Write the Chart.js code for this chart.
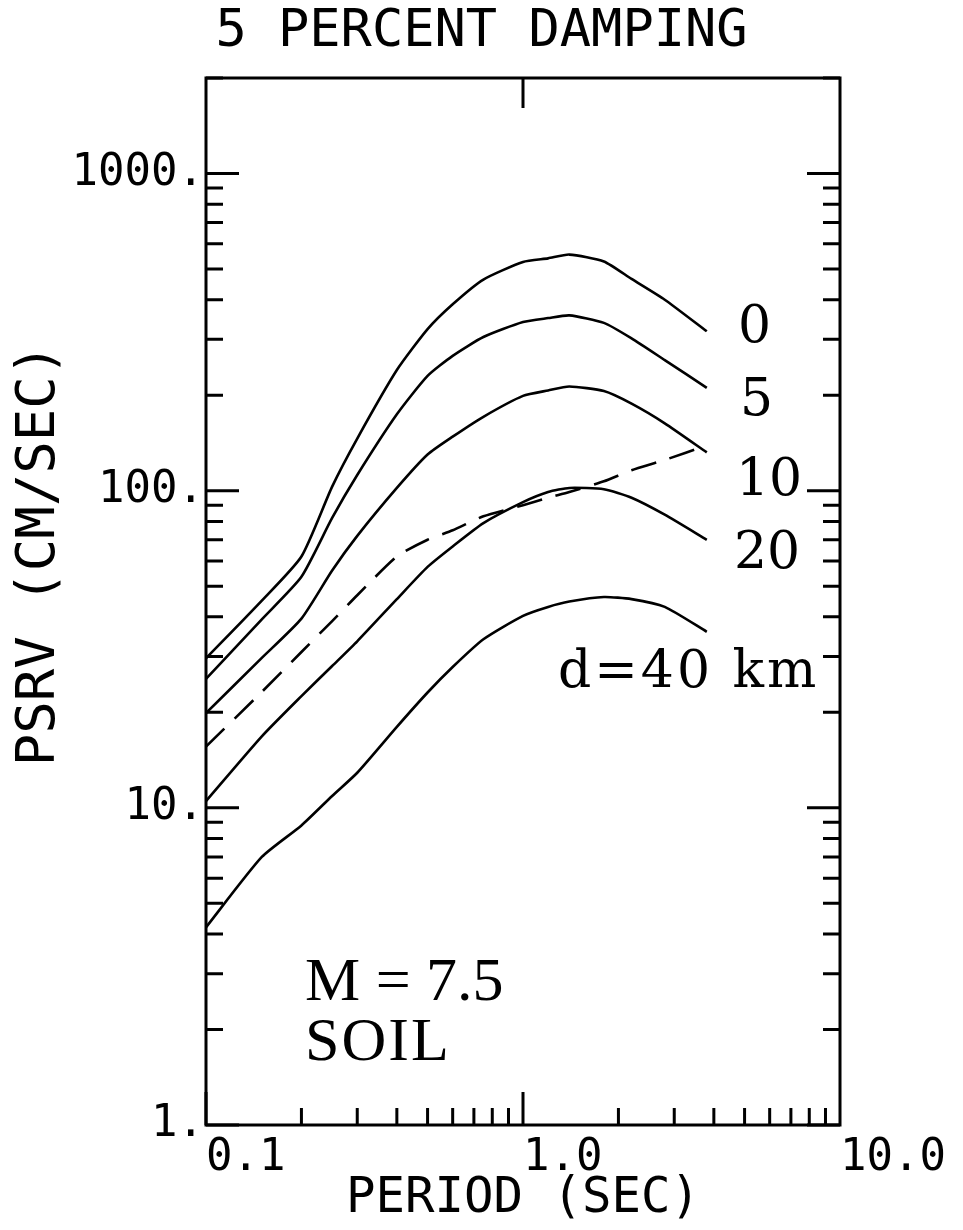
<!DOCTYPE html>
<html><head><meta charset="utf-8">
<script src="https://cdn.jsdelivr.net/npm/chart.js@4/dist/chart.umd.min.js"></script>
<style>html,body{margin:0;padding:0;background:#fff;}canvas{display:block;}</style>
</head><body>
<canvas id="c" width="963" height="1230"></canvas>
<script>
// ---- data ----
const periods   = [0.1, 0.15, 0.2, 0.25, 0.3, 0.4, 0.5, 0.6, 0.75, 1.0, 1.2, 1.4, 1.8, 2.2, 2.8, 3.8];
const psrvD0    = [29.6, 45, 62, 103, 146, 240, 323, 387, 463, 526, 540, 555, 528, 465, 400, 318];
const psrvD5    = [25.5, 39.3, 53.5, 82, 112, 174, 230, 266, 305, 340, 350, 357, 338, 302, 258, 211];
const psrvD10   = [19.9, 29.7, 39.5, 56, 72, 102, 130, 148, 171, 199, 207, 213, 206, 188, 163, 132];
const psrvD20   = [10.5, 16.8, 22.5, 28, 33.5, 45.5, 57.5, 66.7, 79, 92, 99, 102, 101, 95, 84, 70];
const psrvD40   = [4.2, 7.0, 8.8, 10.9, 12.9, 18, 23.1, 27.8, 34, 40.3, 43, 44.7, 46.2, 45.5, 43, 35.9];
const psrvDash  = [15.6, 23.2, 31, 38.8, 46.8, 62, 70, 75, 83, 90, 95, 99, 107, 116, 125, 139];
const distanceLabels = ['0', '5', '10', '20', 'd=40 km'];
const xTickValues = [0.1, 1, 10];
const xTickLabels = ['0.1', '1.0', '10.0'];
const yTickValues = [1, 10, 100, 1000];
const yTickLabels = ['1.', '10.', '100.', '1000.'];
const chartTitle = '5 PERCENT DAMPING';
const xTitle = 'PERIOD (SEC)';
const yTitle = 'PSRV (CM/SEC)';
const noteLines = ['M = 7.5', 'SOIL'];

const pts = vals => periods.map((p, i) => ({x: p, y: vals[i]}));
const solid = (label, vals) => ({label, data: pts(vals), borderColor: '#000', borderWidth: 2.6,
  pointRadius: 0, fill: false, tension: 0.2});

const monoFont = '"DejaVu Sans Mono", monospace';
const serifFont = '"DejaVu Serif", serif';
const noteFont = '"Liberation Serif", serif';

const framePlugin = {
  id: 'frame',
  afterDraw(chart) {
    const {ctx, chartArea: a, scales: {x, y}} = chart;
    ctx.save();
    ctx.strokeStyle = '#000';
    ctx.lineCap = 'butt';
    ctx.lineWidth = 3;
    ctx.strokeRect(a.left, a.top, a.right - a.left, a.bottom - a.top);
    ctx.beginPath();
    [1, 10, 100, 1000].forEach(d => {
      for (let k = 1; k <= 9; k++) {
        const v = k * d;
        if (v > y.max) break;
        const py = y.getPixelForValue(v);
        const len = k === 1 ? 33 : 17;
        ctx.moveTo(a.left, py); ctx.lineTo(a.left + len, py);
        ctx.moveTo(a.right - len, py); ctx.lineTo(a.right, py);
      }
    });
    [0.1, 1].forEach(d => {
      for (let k = 1; k <= 9; k++) {
        const px = x.getPixelForValue(k * d);
        const len = k === 1 ? 33 : 17;
        ctx.moveTo(px, a.bottom); ctx.lineTo(px, a.bottom - len);
      }
    });
    const p1 = x.getPixelForValue(1);
    ctx.moveTo(p1, a.top); ctx.lineTo(p1, a.top + 30);
    ctx.stroke();

    ctx.fillStyle = '#000';
    ctx.save();
    ctx.translate(54, 555);
    ctx.rotate(-Math.PI / 2);
    ctx.font = '54px ' + monoFont;
    ctx.textAlign = 'center';
    ctx.textBaseline = 'alphabetic';
    ctx.fillText(yTitle, 0, 0);
    ctx.restore();

    ctx.font = '52px ' + serifFont;
    ctx.textAlign = 'left';
    ctx.textBaseline = 'alphabetic';
    const labelPos = [[738, 342], [740, 415], [736, 495], [734, 568], [558, 687]];
    distanceLabels.forEach((t, i) => {
      ctx.letterSpacing = i === 4 ? '3px' : '0px';
      ctx.fillText(t, labelPos[i][0], labelPos[i][1]);
    });
    ctx.font = '62px ' + noteFont;
    ctx.letterSpacing = '0px';
    ctx.fillText(noteLines[0], 305, 1000);
    ctx.letterSpacing = '2px';
    ctx.fillText(noteLines[1], 305, 1060);
    ctx.letterSpacing = '0px';
    ctx.restore();
  }
};

new Chart(document.getElementById('c'), {
  type: 'line',
  data: {
    datasets: [
      solid('d=0', psrvD0),
      solid('d=5', psrvD5),
      solid('d=10', psrvD10),
      solid('d=20', psrvD20),
      solid('d=40', psrvD40),
      Object.assign(solid('dashed', psrvDash), {borderDash: [26, 14]})
    ]
  },
  options: {
    responsive: false,
    animation: false,
    layout: {padding: 0},
    plugins: {
      legend: {display: false},
      tooltip: {enabled: false},
      title: {display: true, text: chartTitle, color: '#000',
        font: {family: monoFont, size: 52, weight: 'normal', lineHeight: 1.2},
        padding: {top: 1, bottom: 14.6}}
    },
    scales: {
      x: {
        type: 'logarithmic', position: 'bottom', min: 0.1, max: 10,
        grid: {display: false, drawTicks: false},
        border: {display: false},
        afterBuildTicks: s => { s.ticks = xTickValues.map(v => ({value: v})); },
        afterFit: s => { s.height = 105; },
        ticks: {
          autoSkip: false, maxRotation: 0, align: 'start', padding: 7, color: '#000',
          font: {family: monoFont, size: 44},
          callback: v => xTickLabels[xTickValues.indexOf(v)]
        },
        title: {display: true, text: xTitle, color: '#000',
          font: {family: monoFont, size: 49}, padding: {top: 0, bottom: 1}}
      },
      y: {
        type: 'logarithmic', position: 'left', min: 1, max: 2000,
        grid: {display: false, drawTicks: false},
        border: {display: false},
        afterBuildTicks: s => { s.ticks = yTickValues.map(v => ({value: v})); },
        afterFit: s => { s.width = 206; },
        ticks: {
          autoSkip: false, padding: 2, color: '#000',
          font: {family: monoFont, size: 44},
          callback: v => yTickLabels[yTickValues.indexOf(v)]
        }
      },
      yR: {
        type: 'linear', position: 'right', display: true,
        grid: {display: false, drawTicks: false},
        border: {display: false},
        ticks: {display: false},
        afterFit: s => { s.width = 123; }
      }
    }
  },
  plugins: [framePlugin]
});
</script>
</body></html>
